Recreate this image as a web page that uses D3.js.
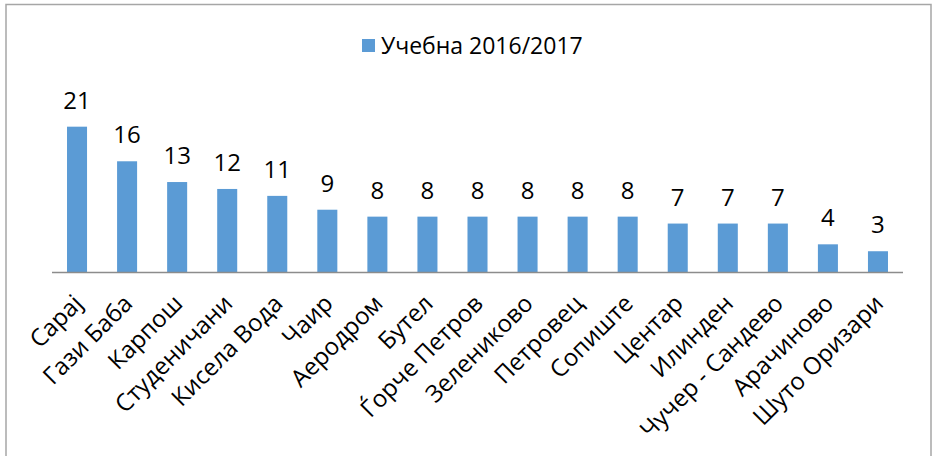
<!DOCTYPE html>
<html>
<head>
<meta charset="utf-8">
<script src="https://cdn.jsdelivr.net/npm/d3@7"></script>
<style>
  html, body { margin: 0; padding: 0; background: #ffffff; }
  svg { display: block; }
</style>
</head>
<body>
<svg id="chart" width="932" height="456"></svg>
<script>
// ---- data ----
const categories = ["Сарај", "Гази Баба", "Карпош", "Студеничани", "Кисела Вода", "Чаир", "Аеродром", "Бутел", "Ѓорче Петров", "Зелениково", "Петровец", "Сопиште", "Центар", "Илинден", "Чучер - Сандево", "Арачиново", "Шуто Оризари"];
const values = [21, 16, 13, 12, 11, 9, 8, 8, 8, 8, 8, 8, 7, 7, 7, 4, 3];
const seriesName = "Учебна 2016/2017";
const yDomain = [0, 25];

// ---- layout ----
const W = 932, H = 456;
const font = "'Open Sans', 'Liberation Sans', sans-serif";
const barColor = "#5b9bd5";
const plot = { left: 52, right: 903, bottom: 272, top: 99 };

const svg = d3.select("#chart");

// outer border
svg.append("rect")
  .attr("x", 6).attr("y", 4.5)
  .attr("width", 925).attr("height", 470)
  .attr("fill", "#ffffff")
  .attr("stroke", "#a6a6a6")
  .attr("stroke-width", 1.5);

const x = d3.scaleBand()
  .domain(categories)
  .range([plot.left, plot.right])
  .paddingInner(0.6)
  .paddingOuter(0.3);

const y = d3.scaleLinear()
  .domain(yDomain)
  .range([plot.bottom, plot.top]);

const data = categories.map((c, i) => ({ cat: c, val: values[i] }));

// bars
svg.append("g").selectAll("rect")
  .data(data)
  .join("rect")
  .attr("x", d => x(d.cat))
  .attr("y", d => y(d.val))
  .attr("width", x.bandwidth())
  .attr("height", d => y(0) - y(d.val))
  .attr("fill", barColor);

// value labels
svg.append("g").selectAll("text")
  .data(data)
  .join("text")
  .attr("x", d => x(d.cat) + x.bandwidth() / 2)
  .attr("y", d => y(d.val) - 18)
  .attr("text-anchor", "middle")
  .attr("font-family", font)
  .attr("font-size", 24)
  .attr("fill", "#000000")
  .text(d => d.val);

// x axis
const xAxis = d3.axisBottom(x).tickSize(0).tickPadding(0);
const gx = svg.append("g")
  .attr("transform", `translate(0,${plot.bottom})`)
  .call(xAxis);
gx.select(".domain")
  .attr("stroke", "#8c8c8c")
  .attr("stroke-width", 1.3)
  .attr("d", `M${plot.left},0.5H${plot.right}`);
gx.selectAll(".tick text")
  .attr("font-family", font)
  .attr("font-size", 24)
  .attr("fill", "#000000")
  .attr("text-anchor", "end")
  .attr("x", 0)
  .attr("y", 0)
  .attr("dy", "0.35em")
  .attr("transform", "translate(1,27) rotate(-45)");

// legend
const lg = svg.append("g").attr("transform", "translate(362,38)");
lg.append("rect")
  .attr("x", 0).attr("y", 1)
  .attr("width", 13).attr("height", 13)
  .attr("fill", barColor);
lg.append("text")
  .attr("x", 19)
  .attr("y", 15.5)
  .attr("font-family", font)
  .attr("font-size", 23)
  .attr("fill", "#000000")
  .text(seriesName);
</script>
</body>
</html>
